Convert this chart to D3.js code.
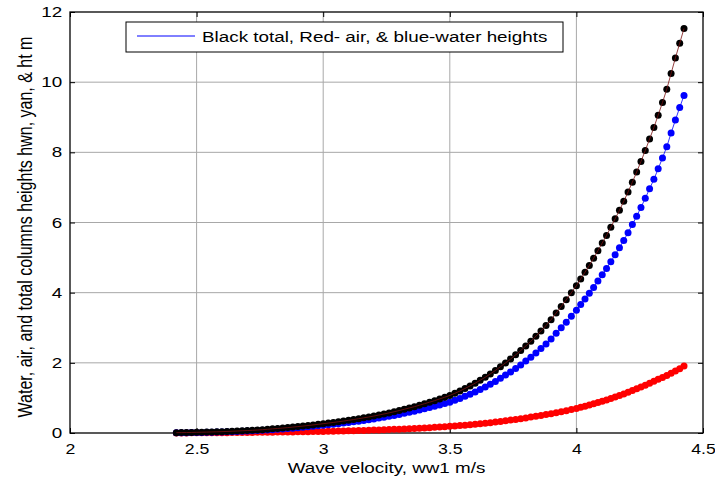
<!DOCTYPE html>
<html>
<head>
<meta charset="utf-8">
<script src="https://d3js.org/d3.v7.min.js"></script>
<style>
    body { margin: 0; background: #fff; }
    text { font-family: "Liberation Sans", Arial, sans-serif; fill: #000; }
    .grid line { stroke: #a8a8a8; stroke-width: 1; }
</style>
</head>
<body>
<svg width="715" height="484"></svg>
<script>
// wave velocity ww1 (m/s)
var vel = [2.42, 2.44, 2.46, 2.48, 2.50, 2.52, 2.54, 2.56, 2.58, 2.60,
    2.62, 2.64, 2.66, 2.68, 2.70, 2.72, 2.74, 2.76, 2.78, 2.80,
    2.82, 2.84, 2.86, 2.88, 2.90, 2.92, 2.94, 2.96, 2.98, 3.00,
    3.02, 3.04, 3.06, 3.08, 3.10, 3.12, 3.14, 3.16, 3.18, 3.20,
    3.22, 3.24, 3.26, 3.28, 3.30, 3.32, 3.34, 3.36, 3.38, 3.40,
    3.42, 3.44, 3.46, 3.48, 3.50, 3.52, 3.54, 3.56, 3.58, 3.60,
    3.62, 3.64, 3.66, 3.68, 3.70, 3.72, 3.74, 3.76, 3.78, 3.80,
    3.82, 3.84, 3.86, 3.88, 3.90, 3.92, 3.94, 3.96, 3.98,
    4.000, 4.017, 4.034, 4.051, 4.068, 4.085, 4.102, 4.119, 4.136, 4.153,
    4.170, 4.187, 4.204, 4.221, 4.238, 4.255, 4.272, 4.289, 4.306, 4.323,
    4.340, 4.357, 4.374, 4.391, 4.408, 4.425];

// water column height hwn (blue)
var water = [0.007, 0.008, 0.010, 0.012, 0.015, 0.017, 0.020, 0.023, 0.026, 0.030,
    0.034, 0.039, 0.044, 0.049, 0.055, 0.061, 0.068, 0.076, 0.085, 0.095,
    0.104, 0.114, 0.125, 0.137, 0.150, 0.162, 0.176, 0.190, 0.205, 0.220,
    0.235, 0.250, 0.266, 0.283, 0.300, 0.318, 0.338, 0.358, 0.378, 0.400,
    0.424, 0.449, 0.474, 0.501, 0.530, 0.560, 0.590, 0.620, 0.655, 0.690,
    0.725, 0.760, 0.800, 0.840, 0.880, 0.930, 0.985, 1.045, 1.105, 1.170,
    1.240, 1.310, 1.390, 1.470, 1.560, 1.650, 1.740, 1.840, 1.940, 2.050,
    2.160, 2.280, 2.410, 2.540, 2.680, 2.840, 3.000, 3.160, 3.330,
    3.500, 3.660, 3.820, 3.980, 4.150, 4.330, 4.510, 4.690, 4.880, 5.080,
    5.280, 5.490, 5.710, 5.940, 6.180, 6.430, 6.690, 6.960, 7.230, 7.530,
    7.840, 8.160, 8.550, 8.920, 9.280, 9.620];

// air column height yan (red)
var air = [0.002, 0.003, 0.003, 0.004, 0.005, 0.006, 0.006, 0.007, 0.008, 0.009,
    0.010, 0.011, 0.012, 0.014, 0.015, 0.016, 0.018, 0.019, 0.021, 0.023,
    0.025, 0.027, 0.029, 0.031, 0.033, 0.035, 0.037, 0.040, 0.042, 0.045,
    0.048, 0.051, 0.055, 0.058, 0.062, 0.066, 0.070, 0.074, 0.078, 0.083,
    0.088, 0.093, 0.099, 0.104, 0.110, 0.116, 0.123, 0.130, 0.137, 0.145,
    0.153, 0.162, 0.171, 0.180, 0.190, 0.201, 0.212, 0.224, 0.237, 0.250,
    0.264, 0.279, 0.295, 0.312, 0.330, 0.348, 0.367, 0.387, 0.408, 0.430,
    0.453, 0.476, 0.500, 0.525, 0.550, 0.578, 0.606, 0.636, 0.668,
    0.700, 0.731, 0.763, 0.796, 0.831, 0.868, 0.905, 0.943, 0.984, 1.025,
    1.068, 1.113, 1.161, 1.209, 1.258, 1.309, 1.362, 1.417, 1.478, 1.530,
    1.580, 1.640, 1.700, 1.770, 1.830, 1.910];

// total column height ht (black)
var total = [0.009, 0.011, 0.013, 0.016, 0.020, 0.023, 0.026, 0.030, 0.034, 0.039,
    0.044, 0.050, 0.056, 0.063, 0.070, 0.077, 0.086, 0.095, 0.106, 0.118,
    0.129, 0.141, 0.154, 0.168, 0.183, 0.197, 0.213, 0.230, 0.247, 0.265,
    0.283, 0.301, 0.321, 0.341, 0.362, 0.384, 0.408, 0.432, 0.456, 0.483,
    0.512, 0.542, 0.573, 0.605, 0.640, 0.676, 0.713, 0.750, 0.792, 0.835,
    0.878, 0.922, 0.971, 1.020, 1.070, 1.131, 1.197, 1.269, 1.342, 1.420,
    1.504, 1.589, 1.685, 1.782, 1.890, 1.998, 2.107, 2.227, 2.348, 2.480,
    2.613, 2.756, 2.910, 3.065, 3.230, 3.418, 3.606, 3.796, 3.998,
    4.200, 4.391, 4.583, 4.776, 4.981, 5.198, 5.415, 5.633, 5.864, 6.105,
    6.348, 6.603, 6.871, 7.149, 7.438, 7.739, 8.052, 8.377, 8.708, 9.060,
    9.420, 9.800, 10.250, 10.690, 11.110, 11.530];

var xTicks = [2, 2.5, 3, 3.5, 4, 4.5];
var yTicks = [0, 2, 4, 6, 8, 10, 12];

var svg = d3.select("svg"),
    mL = 70, mR = 703, mT = 12, mB = 433,
    stretch = 1.3,     // the reference text is wide for its height
    tickStretch = 1.22;

var x = d3.scaleLinear().domain([2, 4.5]).range([mL, mR]),
    y = d3.scaleLinear().domain([0, 12]).range([mB, mT]);

// grid lines
var grid = svg.append("g").attr("class", "grid");
grid.selectAll(".gx")
    .data(xTicks.slice(1, -1))
    .enter().append("line")
    .attr("x1", function (d) { return x(d); })
    .attr("x2", function (d) { return x(d); })
    .attr("y1", mT)
    .attr("y2", mB);
grid.selectAll(".gy")
    .data(yTicks.slice(1, -1))
    .enter().append("line")
    .attr("x1", mL)
    .attr("x2", mR)
    .attr("y1", function (d) { return y(d); })
    .attr("y2", function (d) { return y(d); });

// axes, ticks pointing inward like matlab
function styleAxis(g) {
    g.select(".domain").remove();
    g.selectAll(".tick line").attr("stroke", "#000");
    g.selectAll("text").attr("font-size", "14.5px").attr("fill", "#000")
        .style("font-family", "'Liberation Sans', Arial, sans-serif");
}

svg.append("g")
    .attr("transform", "translate(0," + mB + ")")
    .call(d3.axisBottom(x).tickValues(xTicks).tickFormat(d3.format("")).tickSizeInner(-5).tickSizeOuter(0).tickPadding(11))
    .call(styleAxis)
    .selectAll("text").attr("transform", "scale(" + tickStretch + ",1)");

svg.append("g")
    .attr("transform", "translate(0," + mT + ")")
    .call(d3.axisTop(x).tickValues(xTicks).tickFormat("").tickSizeInner(-5).tickSizeOuter(0))
    .call(styleAxis);

svg.append("g")
    .attr("transform", "translate(" + mL + ",0)")
    .call(d3.axisLeft(y).tickValues(yTicks).tickSizeInner(-5).tickSizeOuter(0).tickPadding(6))
    .call(styleAxis)
    .selectAll("text").attr("transform", "scale(" + stretch + ",1)");

svg.append("g")
    .attr("transform", "translate(" + mR + ",0)")
    .call(d3.axisRight(y).tickValues(yTicks).tickFormat("").tickSizeInner(-5).tickSizeOuter(0))
    .call(styleAxis);

// plot box
svg.append("rect")
    .attr("x", mL)
    .attr("y", mT)
    .attr("width", mR - mL)
    .attr("height", mB - mT)
    .attr("fill", "none")
    .attr("stroke", "#000")
    .attr("stroke-width", 1.3);

// series: red air, blue water, black total (drawn last, on top)
var series = [
    { values: air, dot: "#ff0000", line: "#ff0000" },
    { values: water, dot: "#0000ff", line: "#0000ff" },
    { values: total, dot: "#000000", line: "#7a1010" }
];

series.forEach(function (s) {
    var pts = vel.map(function (v, i) { return [v, s.values[i]]; });
    var g = svg.append("g");
    g.selectAll("circle")
        .data(pts)
        .enter().append("circle")
        .attr("cx", function (d) { return x(d[0]); })
        .attr("cy", function (d) { return y(d[1]); })
        .attr("r", 3.5)
        .attr("fill", s.dot);
    g.append("path")
        .datum(pts)
        .attr("fill", "none")
        .attr("stroke", s.line)
        .attr("stroke-width", 0.8)
        .attr("d", d3.line()
            .x(function (d) { return x(d[0]); })
            .y(function (d) { return y(d[1]); }));
});

// legend
var leg = svg.append("g");
leg.append("rect")
    .attr("x", 126).attr("y", 22)
    .attr("width", 437).attr("height", 30)
    .attr("fill", "#fff")
    .attr("stroke", "#000")
    .attr("stroke-width", 1);
leg.append("line")
    .attr("x1", 137).attr("x2", 195)
    .attr("y1", 36).attr("y2", 36)
    .attr("stroke", "#0000ff")
    .attr("stroke-width", 1);
leg.append("text")
    .attr("transform", "translate(202,42) scale(" + stretch + ",1)")
    .attr("font-size", "14.5px")
    .text("Black total, Red- air, & blue-water heights");

// axis titles
svg.append("text")
    .attr("transform", "translate(" + ((mL + mR) / 2) + ",473) scale(" + stretch + ",1)")
    .attr("text-anchor", "middle")
    .attr("font-size", "14.5px")
    .text("Wave velocity, ww1 m/s");

svg.append("text")
    .attr("transform", "translate(32,227) rotate(-90) scale(1,1.25)")
    .attr("text-anchor", "middle")
    .attr("font-size", "16px")
    .text("Water, air, and total columns heights hwn, yan, & ht m");
</script>
</body>
</html>
